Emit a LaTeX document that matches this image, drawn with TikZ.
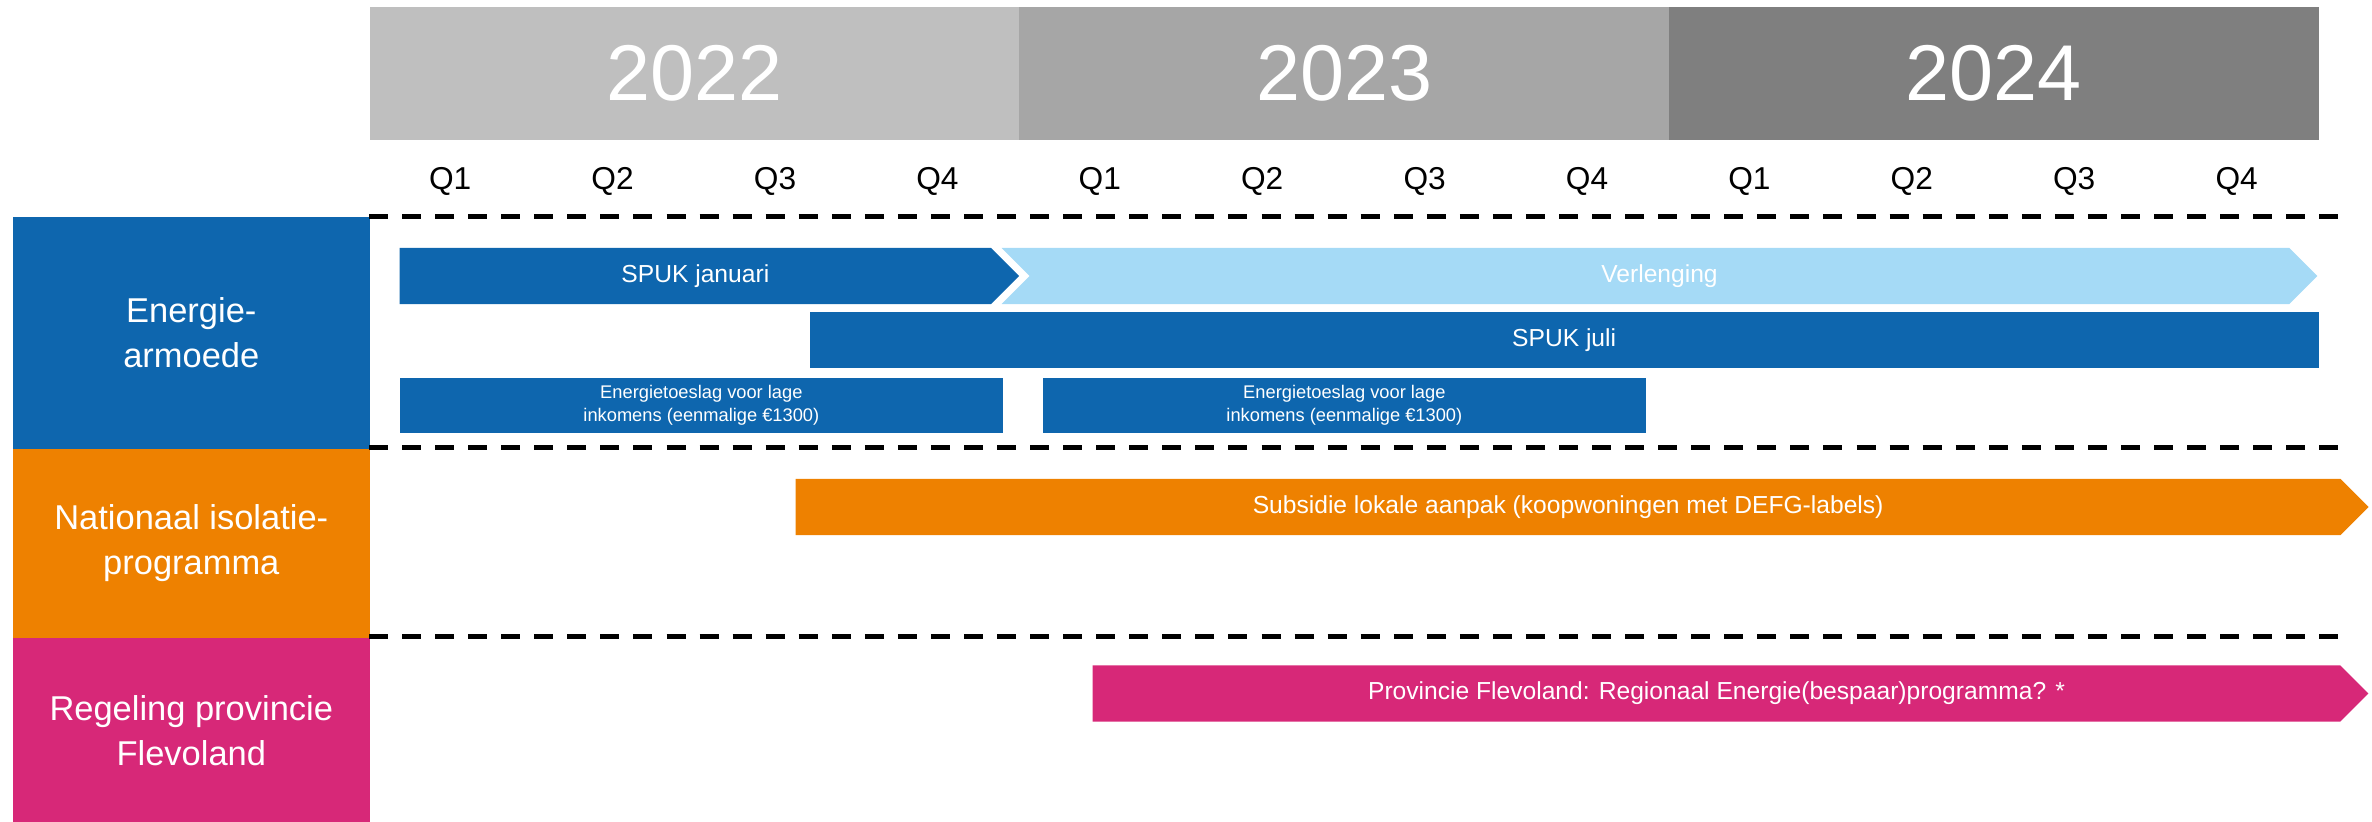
\documentclass[tikz,border=0pt]{standalone}
\usepackage{fontspec}
\setmainfont{Liberation Sans}
\usetikzlibrary{shapes.symbols}
\definecolor{yearA}{HTML}{BFBFBF}
\definecolor{yearB}{HTML}{A6A6A6}
\definecolor{yearC}{HTML}{7F7F7F}
\definecolor{armblue}{HTML}{0E66AE}
\definecolor{lightblue}{HTML}{A5DAF6}
\definecolor{isoorange}{HTML}{EE8100}
\definecolor{provpink}{HTML}{D72878}
\tikzstyle{year} = [rectangle, minimum width=6.495cm, minimum height=1.33cm, inner sep=0, anchor=north west, text=white, font=\fontsize{22.5}{27}\selectfont]
\tikzstyle{theme} = [rectangle, minimum width=3.57cm, inner sep=0, anchor=north west, align=center, text=white, font=\fontsize{9.8}{12.8}\selectfont]
\tikzstyle{bar} = [rectangle, minimum height=0.56cm, inner sep=0, anchor=west, text=white, font=\fontsize{7}{8.4}\selectfont]
\tikzstyle{arrowbar} = [bar, signal, signal to=east, signal pointer angle=90]
\tikzstyle{small} = [bar, minimum height=0.55cm, align=center, font=\fontsize{5.2}{6.4}\selectfont]
\tikzstyle{sepline} = [line width=1.42pt, dash pattern=on 5.4pt off 4pt]

\begin{document}
\begin{tikzpicture}[x=0.01cm, y=-0.01cm]
	\useasboundingbox (0,0) rectangle (2372,822);
	% years and quarters
	\node (y2022) [year, fill=yearA] at (369,6) {2022};
	\node (y2023) [year, fill=yearB] at (1018.5,6) {2023};
	\node (y2024) [year, fill=yearC] at (1668,6) {2024};
	\foreach \q [count=\i from 0] in {1,2,3,4,1,2,3,4,1,2,3,4}
		\node (q\i) [font=\fontsize{9}{11}\selectfont] at ({369+81.2*(2*\i+1)},181) {Q\q};
	
	% themes
	\node (armoede) [theme, fill=armblue, minimum height=2.32cm] at (12,216) {Energie-\\armoede};
	\node (isolatie) [theme, fill=isoorange, minimum height=1.89cm] at (12,448) {Nationaal isolatie-\\programma};
	\node (regeling) [theme, fill=provpink, minimum height=1.85cm] at (12,637) {Regeling provincie\\Flevoland};
	
	\draw [sepline] (369,217) -- (2347,217);
	\draw [sepline] (369,448) -- (2347,448);
	\draw [sepline] (369,637) -- (2347,637);
	
	% bars
	\node (spukjan) [arrowbar, fill=armblue, minimum width=6.19cm] at (399,276) {SPUK januari};
	\node (verlenging) [arrowbar, signal from=west, anchor=center, fill=lightblue, minimum width=13.15cm] at (1659.5,276) {Verlenging};
	\node (spukjuli) [bar, fill=armblue, minimum width=15.08cm] at (809,340) {SPUK juli};
	\node (toeslag1) [small, fill=armblue, minimum width=6.03cm] at (399,405.5) {Energietoeslag voor lage\\inkomens (eenmalige €1300)};
	\node (toeslag2) [small, fill=armblue, minimum width=6.03cm] at (1042,405.5) {Energietoeslag voor lage\\inkomens (eenmalige €1300)};
	\node (subsidie) [arrowbar, fill=isoorange, minimum width=15.72cm] at (795,507) {Subsidie lokale aanpak (koopwoningen met DEFG-labels)};
	\node (provincie) [arrowbar, fill=provpink, minimum width=12.75cm] at (1092,693.5) {Provincie Flevoland: Regionaal Energie(bespaar)programma? *};
\end{tikzpicture}
\end{document}
